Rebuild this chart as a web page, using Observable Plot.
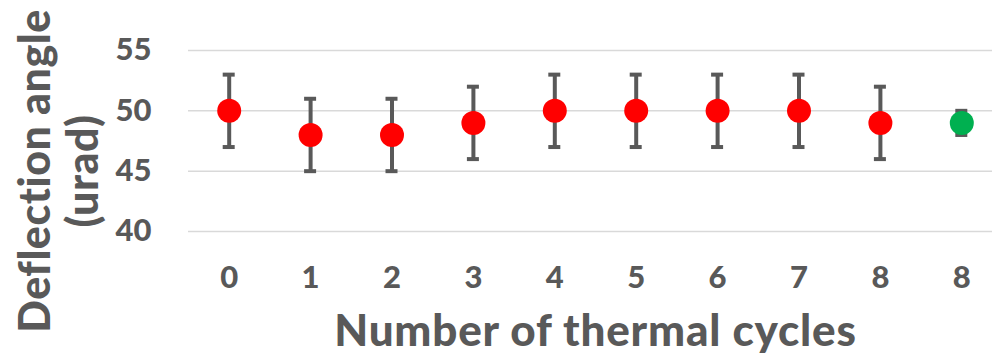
<!DOCTYPE html>
<html>
<head>
<meta charset="utf-8">
<script src="https://cdn.jsdelivr.net/npm/d3@7"></script>
<script src="https://cdn.jsdelivr.net/npm/@observablehq/plot@0.6"></script>
<style>
  html, body { margin: 0; padding: 0; background: #fff; }
  svg { display: block; }
</style>
</head>
<body>
<div id="chart"></div>
<script>
const categoryLabels = ["0", "1", "2", "3", "4", "5", "6", "7", "8", "8"];
const values = [50, 48, 48, 49, 50, 50, 50, 50, 49, 49];
const errors = [3, 3, 3, 3, 3, 3, 3, 3, 3, 1];
const pointColors = ["#ff0000", "#ff0000", "#ff0000", "#ff0000", "#ff0000", "#ff0000", "#ff0000", "#ff0000", "#ff0000", "#00b050"];
const yTicks = [40, 45, 50, 55];
const xTitle = "Number of thermal cycles";
const yTitle = "Deflection angle\n(urad)";

const data = values.map((v, i) => ({
  idx: i,
  value: v,
  lo: v - errors[i],
  hi: v + errors[i],
  color: pointColors[i]
}));

const grey = "#595959";
const font = "Lato, 'Open Sans', sans-serif";

const chart = Plot.plot({
  width: 992,
  height: 355,
  marginLeft: 188,
  marginRight: -10,
  marginTop: 50,
  marginBottom: 124,
  style: { fontFamily: font, fontWeight: 900, color: grey, background: "#fff" },
  x: { type: "band", domain: data.map(d => d.idx), padding: 0, round: false, label: null },
  y: { domain: [40, 55], label: null },
  marks: [
    Plot.ruleY(yTicks, { stroke: "#d9d9d9", strokeWidth: 1.5 }),
    Plot.axisY({ ticks: yTicks, tickSize: 0, tickPadding: 37, fontSize: 31, fill: grey, label: null }),
    Plot.axisX({ tickSize: 0, tickPadding: 34, fontSize: 31, fill: grey, label: null, tickFormat: i => categoryLabels[i] }),
    Plot.ruleX(data, { x: "idx", y1: "lo", y2: "hi", stroke: grey, strokeWidth: 4 }),
    Plot.tickY(data, { x: "idx", y: "lo", stroke: grey, strokeWidth: 4, insetLeft: 34.7, insetRight: 34.7 }),
    Plot.tickY(data, { x: "idx", y: "hi", stroke: grey, strokeWidth: 4, insetLeft: 34.7, insetRight: 34.7 }),
    Plot.dot(data, { x: "idx", y: "value", r: 12, fill: "color", stroke: null }),
    Plot.text([xTitle], {
      frameAnchor: "bottom", dy: 100, fontSize: 44, fontWeight: 900, fill: grey, lineAnchor: "middle"
    }),
    Plot.text([yTitle], {
      frameAnchor: "left", dx: -130, dy: 30, rotate: -90, fontSize: 43, fontWeight: 900,
      fill: grey, lineAnchor: "middle", lineHeight: 1.12, textAnchor: "middle"
    })
  ]
});

d3.select(chart).selectAll("text")
  .filter(function () { return this.textContent === xTitle; })
  .style("letter-spacing", "0.8px");
d3.select(chart).selectAll("text")
  .filter(function () { return this.textContent.startsWith("Deflection"); })
  .style("letter-spacing", "0.5px");

document.getElementById("chart").appendChild(chart);
</script>
</body>
</html>
